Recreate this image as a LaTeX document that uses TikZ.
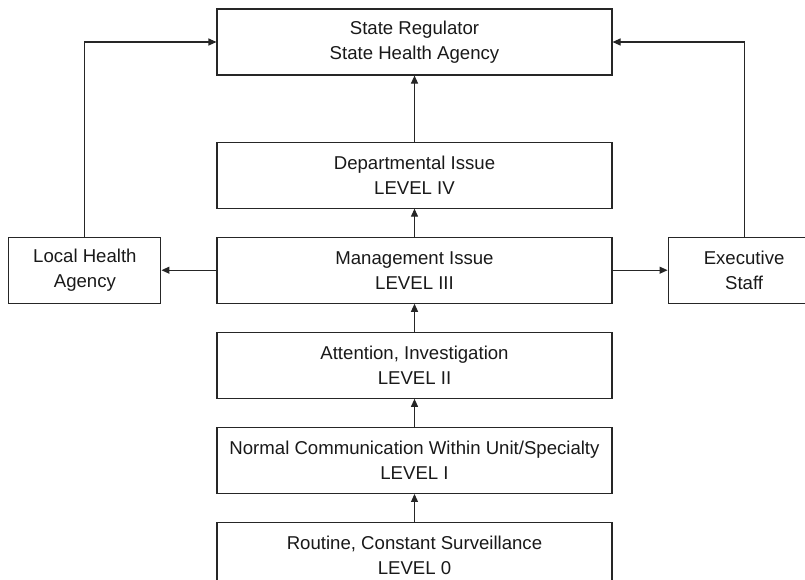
\documentclass[tikz,border=0pt]{standalone}
\usepackage{fontspec}
\setmainfont{Liberation Sans}
\usetikzlibrary{
    arrows.meta,
    positioning
}
\tikzset{
    % Colors
    line color/.style={black!85},
    %
    % Boxes
    level box/.style={draw,line color,line width=1.1pt,inner sep=0pt,minimum width=395pt,minimum height=66pt,align=center,text=black!90},
    side box/.style={level box,minimum width=152pt},
    %
    % Arrows
    arrow tip/.tip={Triangle[length=8pt,width=7pt]},
    arr/.style={->,>={arrow tip},line color,line width=1.1pt}
}
\tikzstyle{every node}=[font=\fontsize{18.6}{25}\selectfont]

\begin{document}
\begin{tikzpicture}[x=1pt,y=-1pt]
        \useasboundingbox (0,0) rectangle (805,579);
        \clip (0,0) rectangle (805,579);
        \node[level box] (regulator) at (414.5,42) {State Regulator\\State Health Agency};
        \node[level box,below=66pt of regulator] (level4) {Departmental Issue\\LEVEL IV};
        \node[level box,below=28pt of level4] (level3) {Management Issue\\LEVEL III};
        \node[level box,below=28pt of level3] (level2) {Attention, Investigation\\LEVEL II};
        \node[level box,below=28pt of level2] (level1) {Normal Communication Within Unit/Specialty\\LEVEL I};
        \node[level box,below=28pt of level1] (level0) {Routine, Constant Surveillance\\LEVEL 0};
        \node[side box,left=55pt of level3] (local) {Local Health\\Agency};
        \node[side box,right=55pt of level3] (staff) {Executive\\Staff};
        \foreach \a/\b in {level0/level1,level1/level2,level2/level3,level3/level4,level4/regulator,level3/local,level3/staff}{
            \draw[arr] (\a) -- (\b);
        }
        \draw[arr] (local.north) |- (regulator.west);
        \draw[arr] (staff.north) |- (regulator.east);
    \end{tikzpicture}
\end{document}
